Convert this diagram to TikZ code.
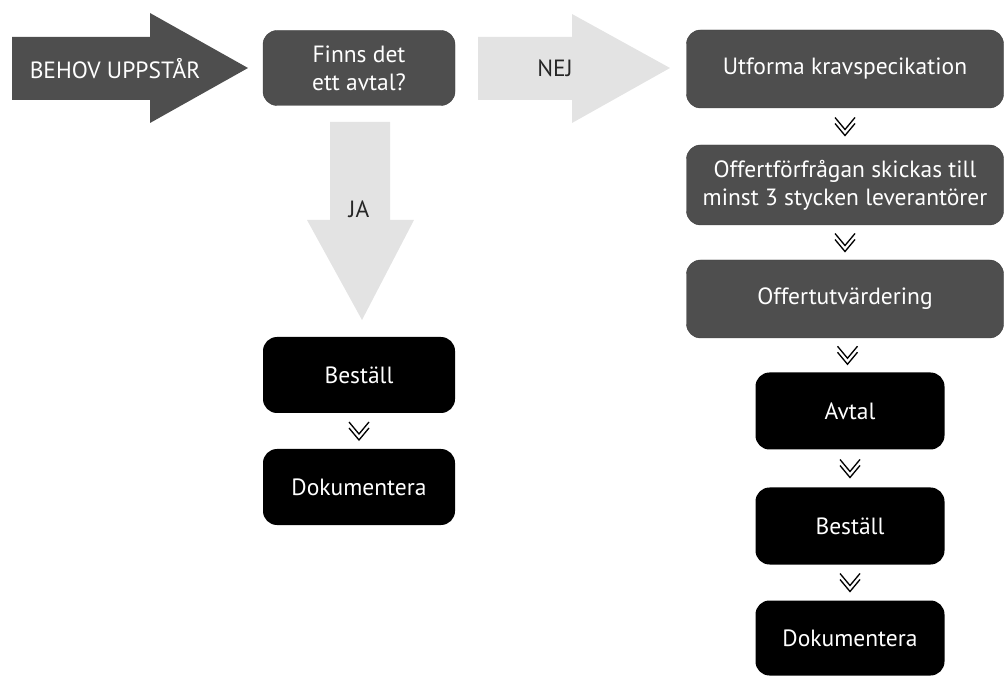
\documentclass[tikz,border=0pt]{standalone}
\usepackage{fontspec}
\setmainfont{PT Sans}
\usetikzlibrary{positioning,calc}

\definecolor{boxgray}{HTML}{4E4E4E}
\definecolor{arrowgray}{HTML}{E3E3E3}

\tikzset{
	box/.style={rectangle, rounded corners=14pt, text=white, align=center,
		inner sep=0pt, font=\fontsize{23.5}{28}\selectfont},
	graybox/.style={box, fill=boxgray, draw=boxgray!80!black},
	blackbox/.style={box, fill=black},
	dchev/.pic={\draw[line width=1.3pt] (-10,-9) -- (0,3) -- (10,-9)
		(-10,-3) -- (0,9) -- (10,-3);}
}

\begin{document}
\begin{tikzpicture}[x=1pt,y=-1pt]
	\useasboundingbox (0,0) rectangle (1005,676);
	% start and the question
	\fill[boxgray] (12,37) -- (150,37) -- (150,13) -- (248,68) -- (150,123) -- (150,100) -- (12,100) -- cycle;
	\node[box] (behov) at (115,69) {BEHOV UPPSTÅR};
	\node[graybox, minimum width=192, minimum height=75] (finns) at (359,68) {Finns det\\ett avtal?};
	% the two answers
	\fill[arrowgray] (478,37) -- (572,37) -- (572,14) -- (670,68) -- (572,123) -- (572,100) -- (478,100) -- cycle;
	\node[font=\fontsize{23.5}{28}\selectfont, text=black!85] (nej) at (555,68) {NEJ};
	\fill[arrowgray] (330,122) -- (390,122) -- (390,220) -- (414,220) -- (362,320) -- (307,220) -- (330,220) -- cycle;
	\node[font=\fontsize{23.5}{28}\selectfont, text=black!85] (ja) at (359,209) {JA};
	% right column
	\node[graybox, minimum width=317, minimum height=78] (krav) at (845,69) {Utforma kravspecikation};
	\node[graybox, minimum width=317, minimum height=80] (forfragan) at (845,185) {Offertförfrågan skickas till\\minst 3 stycken leverantörer};
	\node[graybox, minimum width=317, minimum height=78] (utvard) at (845,299) {Offertutvärdering};
	\node[blackbox, minimum width=189, minimum height=77] (avtal) at (850,411) {Avtal};
	\node[blackbox, minimum width=189, minimum height=77] (bestallB) at (850,526) {Beställ};
	\node[blackbox, minimum width=189, minimum height=75] (dokB) at (850,638) {Dokumentera};
	% left column
	\node[blackbox, minimum width=192, minimum height=76] (bestallA) at (359,375) {Beställ};
	\node[blackbox, minimum width=192, minimum height=76] (dokA) at (359,487) {Dokumentera};
	\foreach \a/\b in {krav/forfragan, forfragan/utvard, utvard/avtal, avtal/bestallB, bestallB/dokB, bestallA/dokA}
		\pic at ($(\a.south)!.5!(\b.north)$) {dchev};
\end{tikzpicture}
\end{document}
